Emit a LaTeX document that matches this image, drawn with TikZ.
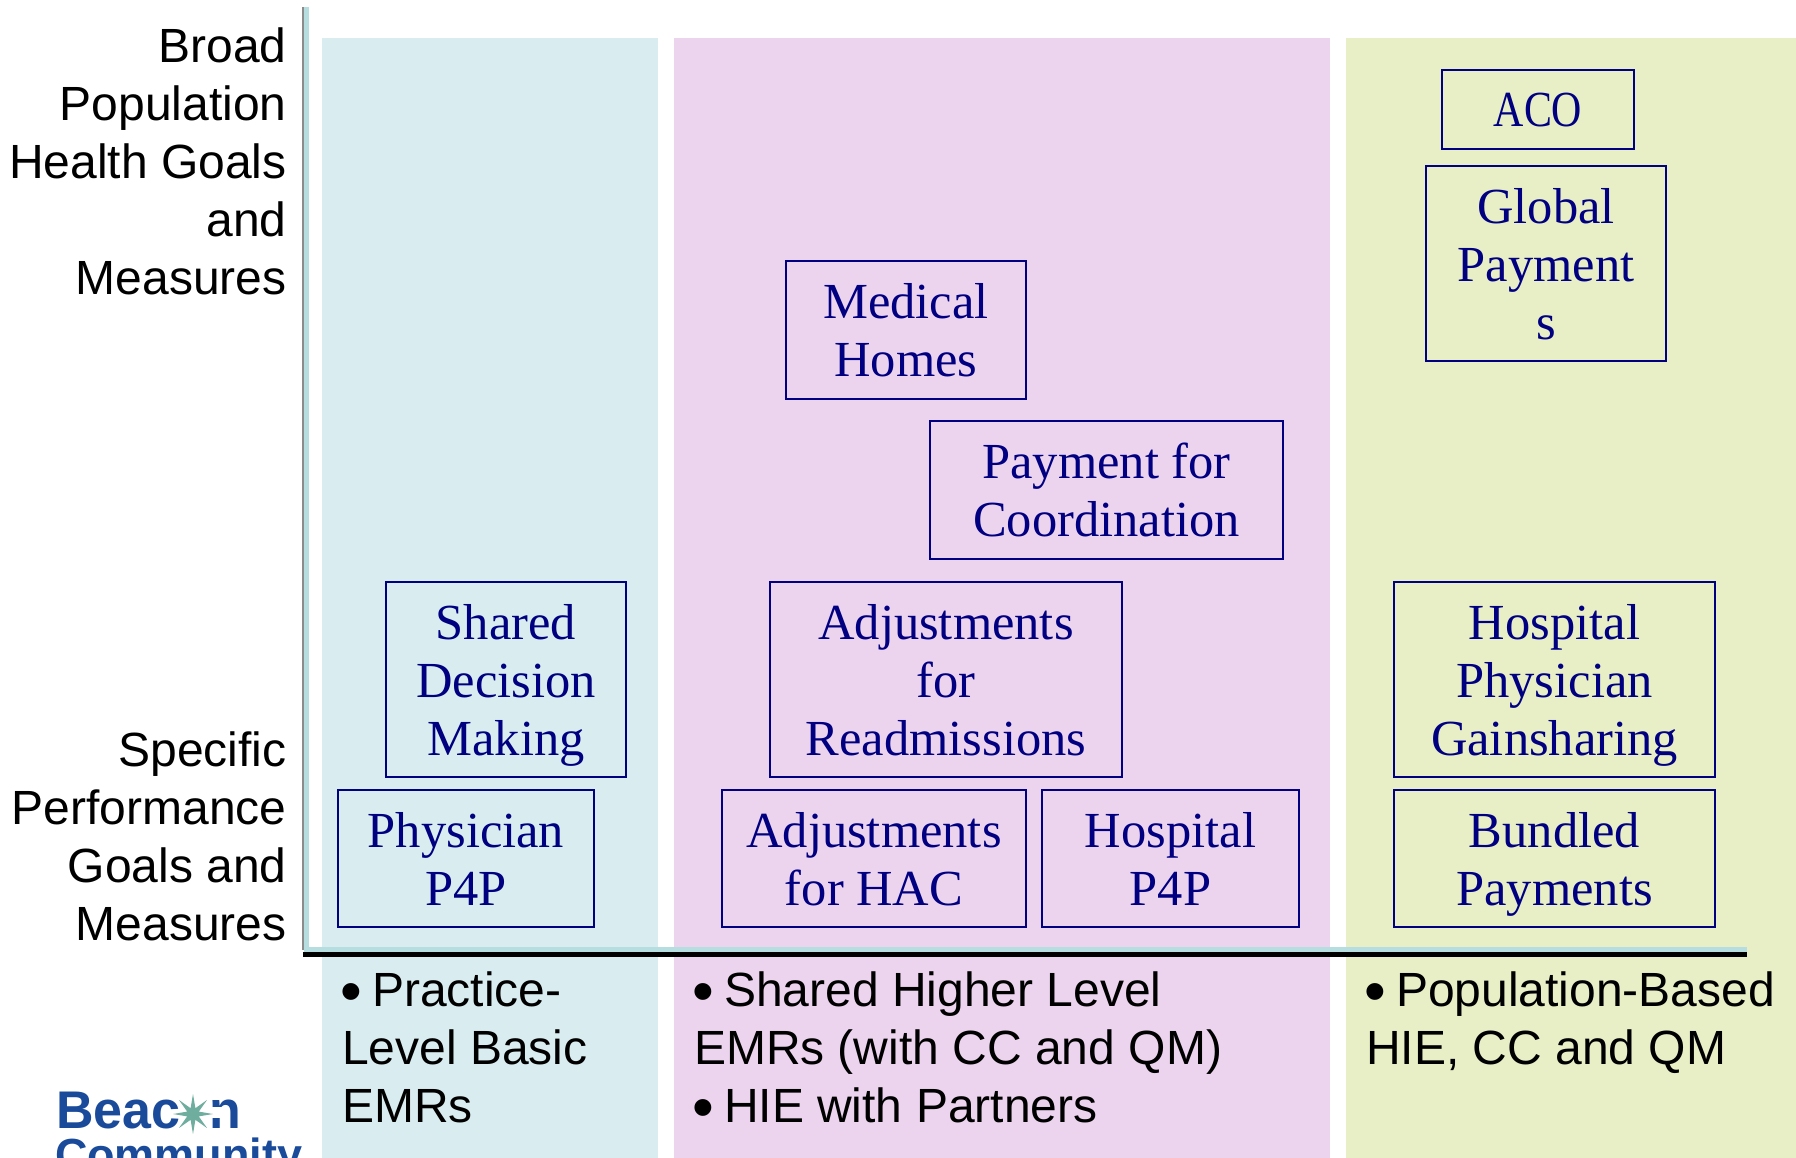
\documentclass[tikz,border=0pt]{standalone}
\usetikzlibrary{shapes.geometric}
\usepackage{fontspec}
\setmainfont{Liberation Sans}
\newfontfamily\serifbox{Liberation Serif}
\definecolor{panelblue}{HTML}{D9ECEF}
\definecolor{panelpink}{HTML}{ECD3EE}
\definecolor{panelgreen}{HTML}{E8EEC6}
\definecolor{boxnavy}{HTML}{000080}
\definecolor{axisteal}{HTML}{B6DDE0}
\definecolor{logoblue}{HTML}{1A4A9A}
\definecolor{logostar}{HTML}{6FAE9E}
\tikzset{
  panel/.style={inner sep=0pt,outer sep=0pt,anchor=north west},
  measurebox/.style={draw=boxnavy,line width=2pt,text=boxnavy,inner sep=0pt,outer sep=0pt,align=center,
    font=\serifbox\fontsize{50.5}{58}\selectfont},
  sidelabel/.style={anchor=north east,inner sep=0pt,outer sep=0pt,align=right,text=black,
    font=\fontsize{48}{58}\selectfont},
  listtext/.style={anchor=north west,inner sep=0pt,outer sep=0pt,align=left,text=black,
    font=\fontsize{48}{58}\selectfont},
  logotext/.style={anchor=base west,inner sep=0pt,outer sep=0pt,text=logoblue,
    font=\bfseries\fontsize{53}{58}\selectfont},
  logosmall/.style={logotext,font=\bfseries\fontsize{45}{58}\selectfont},
}
\newcommand{\panelrect}[6]{%
  \pgfmathsetmacro{\pw}{#4-#2}\pgfmathsetmacro{\ph}{#5-#3}%
  \node[panel,fill=#6,minimum width=\pw pt,minimum height=\ph pt] (#1) at (#2,#3) {};}
\newcommand{\measure}[6]{%
  \pgfmathsetmacro{\pw}{#4-#2}\pgfmathsetmacro{\ph}{#5-#3}%
  \pgfmathsetmacro{\cx}{(#4+#2)/2}\pgfmathsetmacro{\cy}{(#5+#3)/2}%
  \node[measurebox,minimum width=\pw pt,minimum height=\ph pt] (#1) at (\cx,\cy) {\rule{0pt}{47pt}#6\rule[-12pt]{0pt}{12pt}};}
\newcommand{\bul}{\makebox[30pt][l]{\hspace{-1.5pt}\raisebox{-6pt}{\fontsize{62}{58}\selectfont •}}}
\begin{document}
\begin{tikzpicture}[x=1pt,y=-1pt]
\useasboundingbox (0,0) rectangle (1796,1158);
\clip (0,0) rectangle (1796,1158);
\panelrect{pblue}{322}{38}{658}{1158}{panelblue}
\panelrect{ppink}{674}{38}{1330}{1158}{panelpink}
\panelrect{pgreen}{1346}{38}{1796}{1158}{panelgreen}

% axes
\coordinate (axtop) at (306.5,7);
\coordinate (axcorner) at (306.5,949.5);
\coordinate (axend) at (1747,949.5);
\draw[line width=2pt,black!45] ([xshift=-3.5pt]axtop) -- ([xshift=-3.5pt]axcorner);
\draw[line width=4.5pt,black] ([xshift=-3.5pt,yshift=-4.8pt]axcorner) -- ([yshift=-4.8pt]axend);
\draw[line width=5pt,axisteal] (axtop) -- (axcorner);
\draw[line width=5pt,axisteal] ([xshift=-2.5pt]axcorner) -- (axend);

% side labels
\node[sidelabel] (broad) at (286.5,27.5) {Broad\\Population\\Health Goals\\and\\Measures};
\node[sidelabel] (specific) at (286.5,732) {Specific\\Performance\\Goals and\\Measures};

% measures
\measure{aco}{1442}{70}{1634}{149}{\scalebox{.83}[1]{ACO}}
\measure{global}{1426}{166}{1666}{361}{Global\\Payment\\s}
\measure{medical}{786}{261}{1026}{399}{Medical\\Homes}
\measure{coord}{930}{421}{1283}{559}{Payment for\\Coordination}
\measure{shared}{386}{582}{626}{777}{Shared\\Decision\\Making}
\measure{physp}{338}{790}{594}{927}{Physician\\P4P}
\measure{readm}{770}{582}{1122}{777}{Adjustments\\for\\Readmissions}
\measure{hac}{722}{790}{1026}{927}{Adjustments\\for HAC}
\measure{hospp}{1042}{790}{1299}{927}{Hospital\\P4P}
\measure{gain}{1394}{582}{1715}{777}{Hospital\\Physician\\Gainsharing}
\measure{bundled}{1394}{790}{1715}{927}{Bundled\\Payments}

% lists
\node[listtext] (lista) at (342,971.5) {\bul Practice-\\Level Basic\\EMRs};
\node[listtext] (listb) at (694,971.5) {\bul Shared Higher Level\\EMRs (with CC and QM)\\\bul HIE with Partners};
\node[listtext] (listc) at (1366,971.5) {\bul Population-Based\\HIE, CC and QM};

% logo
\node[logotext] (logoa) at (56,1128.5) {\scalebox{.98}[1]{Beac}};
\node[logotext] (logob) at (209,1128.5) {\scalebox{.98}[1]{n}};
\node[logosmall] (logoc) at (55,1170) {Community};
\fill[white] (210,1107) rectangle (222,1118);
\node[star,star points=8,star point ratio=3.2,fill=logostar,inner sep=0pt,minimum size=40pt] (logostarmark) at (193,1114) {};
\end{tikzpicture}
\end{document}
